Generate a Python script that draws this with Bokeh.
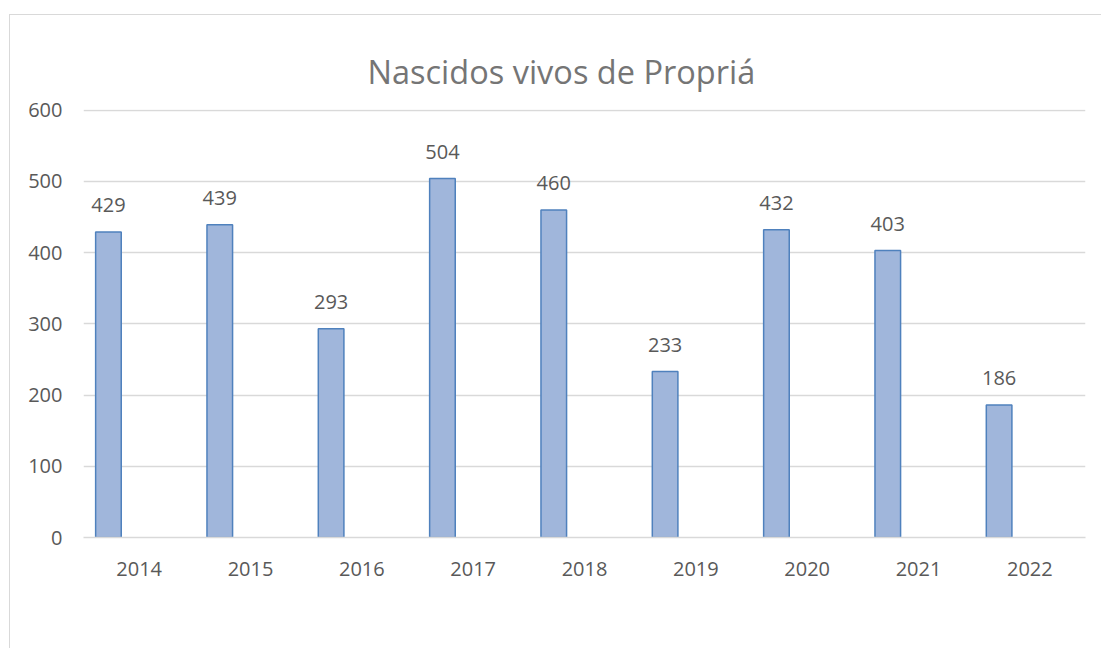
from bokeh.plotting import figure
from bokeh.models import ColumnDataSource, FactorRange, Range1d, FixedTicker, Spacer
from bokeh.layouts import column, row
from bokeh.transform import dodge
from bokeh.core.properties import value
from bokeh.embed import file_html
from bokeh.resources import INLINE

years = ["2014", "2015", "2016", "2017", "2018", "2019", "2020", "2021", "2022"]
births = [429, 439, 293, 504, 460, 233, 432, 403, 186]
labels = [str(v) for v in births]
y_ticks = [0, 100, 200, 300, 400, 500, 600]
title_text = "Nascidos vivos de Propriá"

FONT = "Open Sans"
GREY = "#595959"

src = ColumnDataSource(dict(year=years, births=births, label=labels))

p = figure(
    x_range=FactorRange(*years), y_range=Range1d(0, 601),
    width=1092, height=634, output_backend="svg", toolbar_location=None,
    min_border_left=73, min_border_right=17, min_border_top=94, min_border_bottom=112,
    title=title_text,
    styles={"border-top": "1px solid #d9d9d9", "border-left": "1px solid #d9d9d9"},
)
p.outline_line_color = None
p.background_fill_color = "white"
p.border_fill_color = "white"

p.title.align = "left"
p.title.offset = 284
p.title.vertical_align = "top"
p.title.text_font = FONT
p.title.text_font_size = "32.5px"
p.title.text_font_style = "normal"
p.title.text_color = "#757575"
p.title.standoff = 28

p.vbar(x=dodge("year", -0.276, range=p.x_range), top="births", width=0.23, source=src,
       fill_color="#A0B6DB", line_color="#4F81BD", line_width=1.5)

p.text(x=dodge("year", -0.276, range=p.x_range), y="births", text="label", source=src,
       text_align="center", text_baseline="alphabetic", y_offset=-27,
       text_font=value(FONT), text_font_size="20px", text_color=GREY)

p.xgrid.grid_line_color = None
p.ygrid.grid_line_color = "#d9d9d9"
p.ygrid.grid_line_width = 1.3
p.yaxis.ticker = FixedTicker(ticks=y_ticks)

for ax in (p.xaxis, p.yaxis):
    ax.major_tick_line_color = None
    ax.minor_tick_line_color = None
    ax.major_label_text_font = FONT
    ax.major_label_text_font_size = "20px"
    ax.major_label_text_color = GREY
p.yaxis.axis_line_color = None
p.xaxis.axis_line_color = "#d9d9d9"
p.xaxis.axis_line_width = 1.3
p.xaxis.major_label_standoff = 18
p.yaxis.major_label_standoff = 15
p.x_range.range_padding = 0
p.x_range.group_padding = 0

layout = column(Spacer(width=1101, height=14),
                row(Spacer(width=9, height=634), p, spacing=0),
                spacing=0)

open("out.html", "w").write(file_html(layout, INLINE))
